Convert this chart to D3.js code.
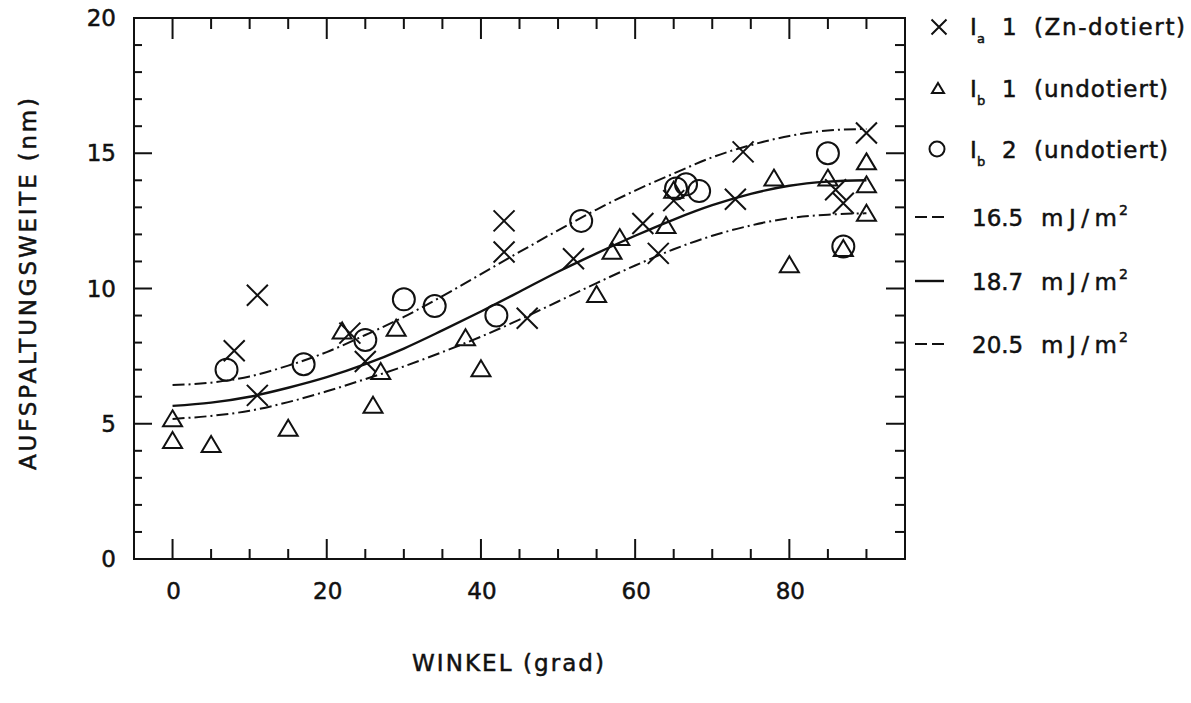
<!DOCTYPE html>
<html>
<head>
<meta charset="utf-8">
<script src="https://cdn.jsdelivr.net/npm/d3@7"></script>
<style>
  html, body { margin: 0; padding: 0; background: #fff; }
  svg { display: block; }
  text { font-family: "DejaVu Sans", sans-serif; fill: #111; stroke: #111; stroke-width: 0.5px; }
</style>
</head>
<body>
<svg id="chart" width="1191" height="703"></svg>
<script>
// Aufspaltungsweite (dissociation width) vs. Winkel, three sample series
// and three calculated curves for different stacking fault energies.

// Series I_a 1 (Zn-dotiert): crosses
const ia1Angle = [8, 11, 11, 23, 25, 43, 43, 46, 52, 61, 63, 65, 73, 74, 86, 87, 90];
const ia1Width = [7.7, 9.75, 6.05, 8.35, 7.3, 12.5, 11.35, 8.9, 11.1, 12.4, 11.3, 13.25, 13.3, 15.05, 13.65, 13.15, 15.75];

// Series I_b 1 (undotiert): triangles
const ib1Angle = [0, 0, 5, 15, 22, 26, 27, 29, 38, 40, 55, 57, 58, 64, 65, 78, 80, 85, 87, 90, 90, 90];
const ib1Width = [5.2, 4.4, 4.25, 4.85, 8.45, 5.7, 6.95, 8.55, 8.2, 7.05, 9.8, 11.4, 11.9, 12.35, 13.65, 14.1, 10.9, 14.1, 11.5, 14.7, 13.85, 12.8];

// Series I_b 2 (undotiert): circles
const ib2Angle = [7, 17, 25, 30, 34, 42, 53, 65.3, 66.6, 68.3, 85, 87];
const ib2Width = [7.0, 7.2, 8.1, 9.6, 9.35, 9.0, 12.5, 13.7, 13.85, 13.6, 15.0, 11.55];

// Calculated curves
const curveAngle = [0, 5, 10, 15, 20, 25, 30, 35, 40, 45, 50, 55, 60, 65, 70, 75, 80, 85, 90];
const curve165 = [6.43, 6.52, 6.75, 7.15, 7.65, 8.28, 8.95, 9.72, 10.53, 11.35, 12.15, 12.92, 13.62, 14.25, 14.85, 15.3, 15.64, 15.84, 15.9];
const curve187 = [5.66, 5.78, 6.0, 6.33, 6.72, 7.2, 7.78, 8.45, 9.15, 9.88, 10.62, 11.3, 11.95, 12.55, 13.08, 13.5, 13.8, 13.95, 14.0];
const curve205 = [5.18, 5.29, 5.48, 5.8, 6.2, 6.65, 7.12, 7.65, 8.22, 8.85, 9.52, 10.2, 10.85, 11.45, 11.95, 12.33, 12.6, 12.73, 12.78];

// Axis ticks
const xMajorTicks = [0, 20, 40, 60, 80];
const xMinorTicks = [5, 10, 15, 25, 30, 35, 45, 50, 55, 65, 70, 75, 85, 90];
const yLabelTicks = [0, 5, 10, 15, 20];
const yMajorTicks = [5, 10, 15];
const yMinorTicks = [1, 2, 3, 4, 6, 7, 8, 9, 11, 12, 13, 14, 16, 17, 18, 19];

const xTitle = "WINKEL (grad)";
const yTitle = "AUFSPALTUNGSWEITE (nm)";

const svg = d3.select("#chart");
const plotLeft = 134, plotRight = 905, plotTop = 18, plotBottom = 559;

const x = d3.scaleLinear().domain([-5, 95]).range([plotLeft, plotRight]);
const y = d3.scaleLinear().domain([0, 20]).range([plotBottom, plotTop]);

const ink = "#111";

// Frame
svg.append("rect")
  .attr("x", plotLeft).attr("y", plotTop)
  .attr("width", plotRight - plotLeft).attr("height", plotBottom - plotTop)
  .attr("fill", "none").attr("stroke", ink).attr("stroke-width", 2);

// Inward ticks on all four sides
const tickG = svg.append("g").attr("stroke", ink).attr("stroke-width", 2);
function vTicks(vals, yEdge, len) {
  tickG.selectAll(null).data(vals).enter().append("line")
    .attr("x1", d => x(d)).attr("x2", d => x(d))
    .attr("y1", yEdge).attr("y2", yEdge + len);
}
function hTicks(vals, xEdge, len) {
  tickG.selectAll(null).data(vals).enter().append("line")
    .attr("y1", d => y(d)).attr("y2", d => y(d))
    .attr("x1", xEdge).attr("x2", xEdge + len);
}
vTicks(xMajorTicks, plotTop, 21);
vTicks(xMinorTicks, plotTop, 11);
vTicks(xMajorTicks, plotBottom, -20);
vTicks(xMinorTicks, plotBottom, -10);
hTicks(yMajorTicks, plotLeft, 18);
hTicks(yMinorTicks, plotLeft, 8);
hTicks(yMajorTicks, plotRight, -19);
hTicks(yMinorTicks, plotRight, -10);

// Tick labels
svg.append("g").selectAll("text").data(xMajorTicks).enter().append("text")
  .attr("x", d => x(d) + 1).attr("y", 599)
  .attr("text-anchor", "middle").attr("font-size", 23)
  .text(d => d);
svg.append("g").selectAll("text").data(yLabelTicks).enter().append("text")
  .attr("x", 116).attr("y", d => y(d) + 8)
  .attr("text-anchor", "end").attr("font-size", 23)
  .text(d => d);

// Axis titles
svg.append("text")
  .attr("x", 508).attr("y", 671)
  .attr("text-anchor", "middle").attr("font-size", 23)
  .attr("textLength", 192).attr("lengthAdjust", "spacing")
  .text(xTitle);
svg.append("text")
  .attr("transform", "translate(36,284) rotate(-90)")
  .attr("text-anchor", "middle").attr("font-size", 23)
  .attr("textLength", 372).attr("lengthAdjust", "spacing")
  .text(yTitle);

// Curves
const line = d3.line()
  .x((d, i) => x(curveAngle[i]))
  .y(d => y(d))
  .curve(d3.curveMonotoneX);
const dashDot = "12,4,2,4";
svg.append("path").datum(curve165)
  .attr("d", line).attr("fill", "none").attr("stroke", ink)
  .attr("stroke-width", 2).attr("stroke-dasharray", dashDot);
svg.append("path").datum(curve187)
  .attr("d", line).attr("fill", "none").attr("stroke", ink)
  .attr("stroke-width", 2.4);
svg.append("path").datum(curve205)
  .attr("d", line).attr("fill", "none").attr("stroke", ink)
  .attr("stroke-width", 2).attr("stroke-dasharray", dashDot);

// Marker shapes
function crossPath(cx, cy, h) {
  return `M${cx - h},${cy - h}L${cx + h},${cy + h}M${cx - h},${cy + h}L${cx + h},${cy - h}`;
}
function trianglePath(cx, cy, w, h) {
  return `M${cx},${cy - h / 2}L${cx + w / 2},${cy + h / 2}L${cx - w / 2},${cy + h / 2}Z`;
}

const marks = svg.append("g").attr("fill", "none").attr("stroke", ink).attr("stroke-width", 2);
marks.selectAll(".ia1").data(d3.range(ia1Angle.length)).enter().append("path")
  .attr("d", i => crossPath(x(ia1Angle[i]), y(ia1Width[i]), 10.5));
marks.selectAll(".ib1").data(d3.range(ib1Angle.length)).enter().append("path")
  .attr("d", i => trianglePath(x(ib1Angle[i]), y(ib1Width[i]), 19, 16));
marks.selectAll(".ib2").data(d3.range(ib2Angle.length)).enter().append("circle")
  .attr("cx", i => x(ib2Angle[i])).attr("cy", i => y(ib2Width[i])).attr("r", 11);

// Legend
const lg = svg.append("g");
const lgMarks = lg.append("g").attr("fill", "none").attr("stroke", ink).attr("stroke-width", 2);
lgMarks.append("path").attr("d", crossPath(939, 27, 7.5));
lgMarks.append("path").attr("d", trianglePath(938, 88, 12, 10));
lgMarks.append("circle").attr("cx", 937).attr("cy", 149).attr("r", 7.5);

const seriesRows = [
  { cy: 27, sub: "a", num: "1", note: "(Zn-dotiert)", len: 151 },
  { cy: 89, sub: "b", num: "1", note: "(undotiert)", len: 134 },
  { cy: 150, sub: "b", num: "2", note: "(undotiert)", len: 134 }
];
seriesRows.forEach(r => {
  lg.append("text").attr("x", 970).attr("y", r.cy + 8).attr("font-size", 23).text("I");
  lg.append("text").attr("x", 977).attr("y", r.cy + 16).attr("font-size", 13).text(r.sub);
  lg.append("text").attr("x", 1002).attr("y", r.cy + 8).attr("font-size", 23).text(r.num);
  lg.append("text").attr("x", 1034).attr("y", r.cy + 8).attr("font-size", 23)
    .attr("textLength", r.len).attr("lengthAdjust", "spacing").text(r.note);
});

const energyRows = [
  { cy: 217, label: "16.5", dash: "12,5" },
  { cy: 281, label: "18.7", dash: null },
  { cy: 344, label: "20.5", dash: "12,5" }
];
energyRows.forEach(r => {
  const l = lg.append("line")
    .attr("x1", 915).attr("x2", 944).attr("y1", r.cy).attr("y2", r.cy)
    .attr("stroke", ink).attr("stroke-width", r.dash ? 2 : 2.4);
  if (r.dash) l.attr("stroke-dasharray", r.dash);
  lg.append("text").attr("x", 972).attr("y", r.cy + 9).attr("font-size", 23).text(r.label);
  lg.append("text").attr("x", 1041).attr("y", r.cy + 9).attr("font-size", 23)
    .attr("textLength", 76).attr("lengthAdjust", "spacing").text("mJ/m");
  lg.append("text").attr("x", 1119).attr("y", r.cy - 2).attr("font-size", 14).text("2");
});
</script>
</body>
</html>
